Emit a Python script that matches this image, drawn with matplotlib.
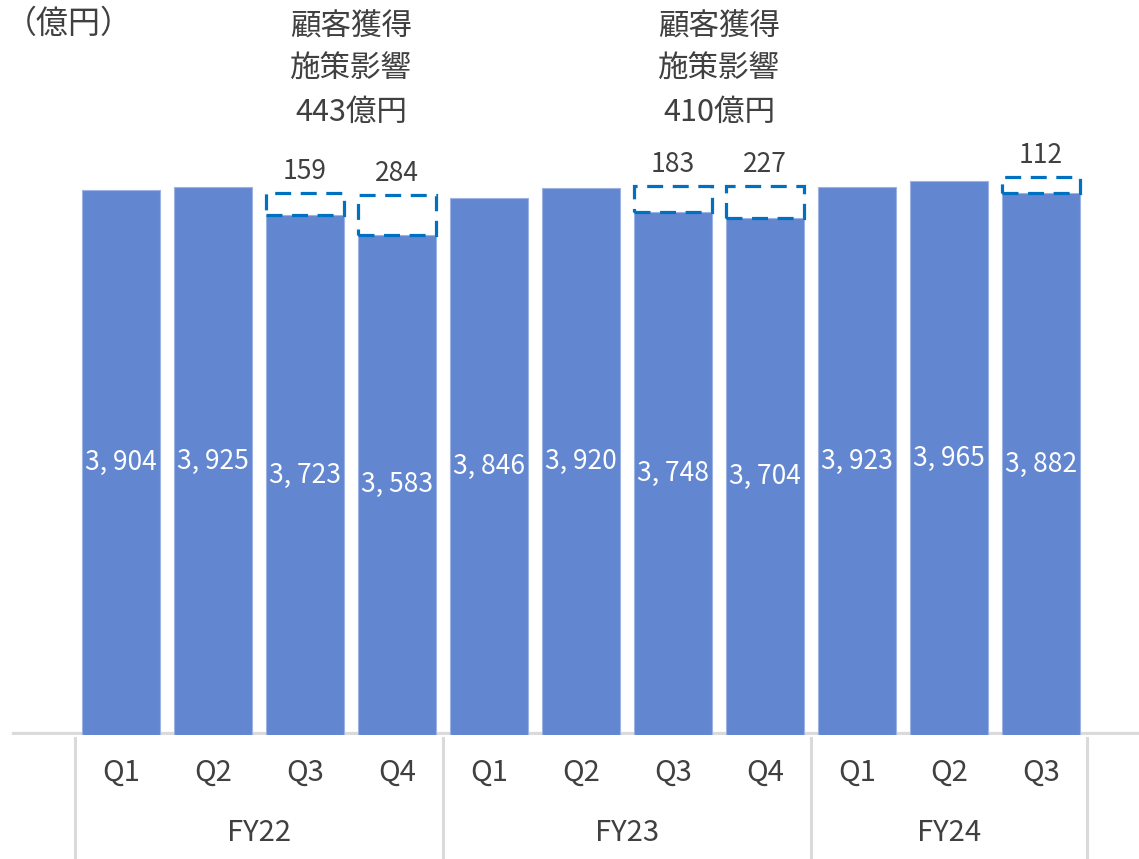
import matplotlib
matplotlib.use("Agg")
import matplotlib.pyplot as plt
from matplotlib.patches import Rectangle

# quarterly revenue (100M yen) and the customer-acquisition impact on top
quarters = ["Q1", "Q2", "Q3", "Q4", "Q1", "Q2", "Q3", "Q4", "Q1", "Q2", "Q3"]
values = [3904, 3925, 3723, 3583, 3846, 3920, 3748, 3704, 3923, 3965, 3882]
impact = [0, 0, 159, 284, 0, 0, 183, 227, 0, 0, 112]
years = ["FY22", "FY23", "FY24"]
year_bars = [4, 4, 3]
notes = ["顧客獲得\n施策影響\n443億円", "顧客獲得\n施策影響\n410億円"]
note_at = [2.5, 6.5]

jp_font = ["Noto Sans CJK JP", "DejaVu Sans"]
txt = "#404040"
bar_color = "#6286CF"
box_color = "#0070C0"
grid_gray = "#DADADA"

fig = plt.figure(figsize=(11.39, 8.59), dpi=100)
ax = fig.add_axes([0, 0.1444, 1, 0.8556])

x = list(range(len(values)))
w = 0.85
ax.bar(x, values, width=w, color=bar_color, edgecolor="#9DB3E3", linewidth=0.8, zorder=3)

for i, v in enumerate(values):
    ax.text(i, v / 2, f"{v:,}".replace(",", ", "), ha="center", va="center",
            color="white", fontsize=19, family=jp_font, zorder=5)
    if impact[i]:
        ax.add_patch(Rectangle((i - w / 2, v), w, impact[i], fill=False,
                               edgecolor=box_color, linewidth=2.3,
                               linestyle=(0, (5, 3)), zorder=4))
        ax.annotate(str(impact[i]), (i, v + impact[i]), xytext=(0, 6),
                    textcoords="offset points", ha="center", va="bottom",
                    color=txt, fontsize=19, family=jp_font)

for pos, note in zip(note_at, notes):
    for k, line in enumerate(note.split("\n")):
        ax.text(pos, 0.963 - 0.058 * k, line, transform=ax.get_xaxis_transform(),
                ha="center", va="center", color=txt, fontsize=22, family=jp_font)

fig.text(0.004, 0.972, "（億円）", ha="left", va="center", color=txt,
         fontsize=23, family=jp_font)

ax.set_xlim(-1.315, 11.065)
ax.set_ylim(0, 5265)
ax.axis("off")

# category axis: baseline, group separators, quarter and year labels
ax.axhline(0, xmin=0.013, xmax=1, color=grid_gray, linewidth=4.5, zorder=2)
trans = ax.get_xaxis_transform()
start = 0
edges = [-0.5]
for name, n in zip(years, year_bars):
    ax.text(start + (n - 1) / 2, -0.133, name, transform=trans, ha="center",
            va="center", color=txt, fontsize=21, family=jp_font)
    start += n
    edges.append(start - 0.5)
for e in edges:
    ax.plot([e, e], [-0.004, -0.17], transform=trans, color=grid_gray,
            linewidth=2.2, clip_on=False, zorder=1)
for i, q in enumerate(quarters):
    ax.text(i, -0.0517, q, transform=trans, ha="center", va="center",
            color=txt, fontsize=21, family=jp_font)

fig.savefig("out.png", dpi=100)
